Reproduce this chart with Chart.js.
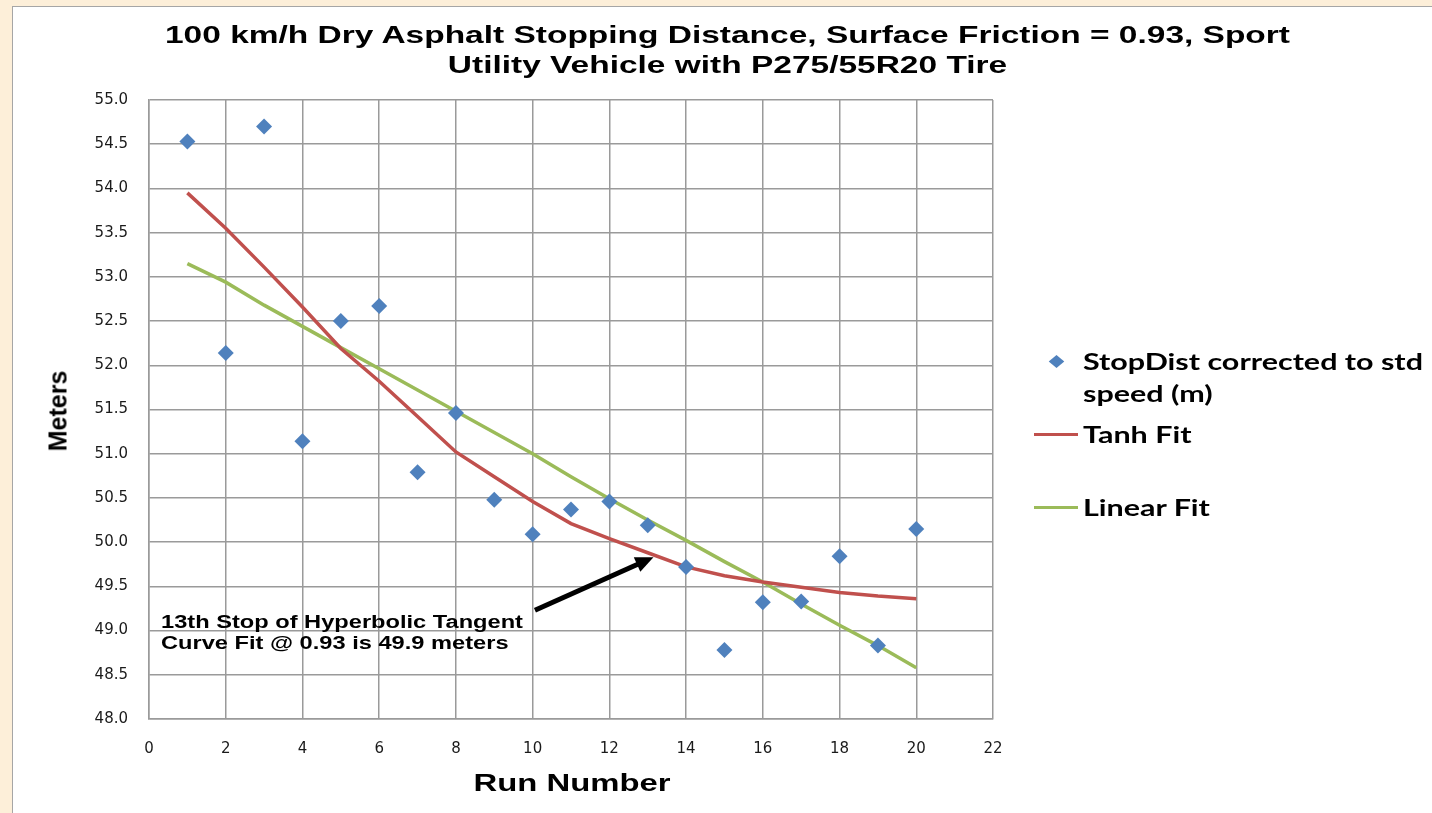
<!DOCTYPE html>
<html><head><meta charset="utf-8">
<script src="https://cdn.jsdelivr.net/npm/chart.js@4.4.1/dist/chart.umd.min.js"></script>
<style>
html,body{margin:0;padding:0;width:1432px;height:813px;overflow:hidden;background:#fdefd9;}
#panel{position:absolute;left:12px;top:6px;width:1440px;height:830px;background:#fff;border:1.5px solid #a6a6a6;box-sizing:border-box;}
#c{position:absolute;left:0;top:0;}
.t{position:absolute;white-space:nowrap;color:#000;z-index:2;}
#title{left:0;width:1455px;top:20px;text-align:center;font:bold 24px "Liberation Sans",Arial,sans-serif;line-height:30px;transform-origin:727.5px 0;}
.leg{font:bold 23px Lato,"Noto Sans",sans-serif;line-height:32px;transform-origin:0 50%;}
#ytitle{left:58px;top:411px;font:bold 25px "Liberation Sans",Arial,sans-serif;line-height:1;transform:translate(-50%,-50%) rotate(-90deg);}
#xtitle{left:571.5px;top:783px;font:bold 24px "Liberation Sans",Arial,sans-serif;line-height:1;}
#note{left:161px;top:612px;font:bold 18px "Liberation Sans",Arial,sans-serif;line-height:21px;transform-origin:0 0;}
.sw{position:absolute;z-index:2;}
</style></head>
<body>
<div id="panel"></div>
<canvas id="c" width="1432" height="813"></canvas>
<div class="t" id="title"><span id="tl1">100 km/h Dry Asphalt Stopping Distance, Surface Friction = 0.93, Sport</span><br>Utility Vehicle with P275/55R20 Tire</div>
<div class="t" id="ytitle">Meters</div>
<div class="t" id="xtitle">Run Number</div>
<div class="t" id="note"><span id="nl1">13th Stop of Hyperbolic Tangent</span><br>Curve Fit @ 0.93 is 49.9 meters</div>
<div class="sw" style="left:1051px;top:356px;width:11px;height:11px;background:#4f81bd;transform:scaleY(0.85) rotate(45deg);"></div>
<div class="t leg" id="leg1" style="left:1083px;top:345px;"><span id="ll1">StopDist corrected to std</span><br>speed (m)</div>
<div class="sw" style="left:1034px;top:432.5px;width:44px;height:3px;background:#c0504d;"></div>
<div class="t leg" id="leg2" style="left:1083px;top:418px;">Tanh Fit</div>
<div class="sw" style="left:1034px;top:505.5px;width:44px;height:3px;background:#9bbb59;"></div>
<div class="t leg" id="leg3" style="left:1083px;top:491px;">Linear Fit</div>
<script>
const runs = [1,2,3,4,5,6,7,8,9,10,11,12,13,14,15,16,17,18,19,20];
const stopDist = [54.53,52.14,54.70,51.14,52.50,52.67,50.79,51.46,50.48,50.09,50.37,50.46,50.19,49.72,48.78,49.32,49.33,49.84,48.83,50.15];
const tanhFit = [53.95,53.55,53.11,52.66,52.19,51.82,51.42,51.02,50.74,50.46,50.21,50.04,49.88,49.72,49.62,49.55,49.49,49.43,49.39,49.36];
const linearFit = [53.15,52.94,52.68,52.44,52.20,51.96,51.72,51.48,51.24,51.00,50.74,50.49,50.25,50.02,49.78,49.55,49.30,49.06,48.83,48.58];
const xTicks = [0,2,4,6,8,10,12,14,16,18,20,22];
const yTicks = [48.0,48.5,49.0,49.5,50.0,50.5,51.0,51.5,52.0,52.5,53.0,53.5,54.0,54.5,55.0];
const yTickLabels = ['48.0','48.5','49.0','49.5','50.0','50.5','51.0','51.5','52.0','52.5','53.0','53.5','54.0','54.5','55.0'];
const arrowTail = [10.06, 49.23];
const arrowHead = [13.15, 49.83];

const pts = a => runs.map((r,i)=>({x:r,y:a[i]}));
const gridColor = '#9a9a9a';

const arrowPlugin = {
  id:'arrow',
  afterDatasetsDraw(chart){
    const {ctx, scales:{x,y}} = chart;
    const x1=x.getPixelForValue(arrowTail[0]), y1=y.getPixelForValue(arrowTail[1]);
    const x2=x.getPixelForValue(arrowHead[0]), y2=y.getPixelForValue(arrowHead[1]);
    const ang=Math.atan2(y2-y1,x2-x1), L=18, W=8;
    const bx=x2-L*Math.cos(ang), by=y2-L*Math.sin(ang);
    ctx.save();
    ctx.strokeStyle='#000'; ctx.fillStyle='#000'; ctx.lineWidth=5; ctx.lineCap='butt';
    ctx.beginPath(); ctx.moveTo(x1,y1); ctx.lineTo(bx+2*Math.cos(ang),by+2*Math.sin(ang)); ctx.stroke();
    ctx.beginPath(); ctx.moveTo(x2,y2);
    ctx.lineTo(bx+W*Math.sin(ang), by-W*Math.cos(ang));
    ctx.lineTo(bx-W*Math.sin(ang), by+W*Math.cos(ang));
    ctx.closePath(); ctx.fill();
    ctx.restore();
  }
};

new Chart(document.getElementById('c'), {
  type:'scatter',
  data:{datasets:[
    {label:'StopDist corrected to std speed (m)', data:pts(stopDist), showLine:false, pointStyle:'rectRot', pointRadius:8, pointBackgroundColor:'#4f81bd', pointBorderWidth:0},
    {label:'Tanh Fit', data:pts(tanhFit), showLine:true, pointRadius:0, borderColor:'#c0504d', borderWidth:3.5, tension:0},
    {label:'Linear Fit', data:pts(linearFit), showLine:true, pointRadius:0, borderColor:'#9bbb59', borderWidth:3.5, tension:0}
  ]},
  options:{
    responsive:false, animation:false, devicePixelRatio:1,
    layout:{padding:{left:49,top:100,right:439,bottom:0}},
    plugins:{legend:{display:false}, title:{display:false}, tooltip:{enabled:false}},
    scales:{
      x:{type:'linear', min:0, max:22,
        afterBuildTicks(s){ s.ticks = xTicks.map(v=>({value:v})); },
        afterFit(s){ s.height = 94; },
        grid:{color:gridColor, lineWidth:1.5, drawTicks:false},
        border:{color:gridColor, width:1.5},
        ticks:{padding:21, color:'#1a1a1a', font:{family:'"DejaVu Sans"', size:15}, maxRotation:0}
      },
      y:{type:'linear', min:48, max:55,
        afterBuildTicks(s){ s.ticks = yTicks.map(v=>({value:v})); },
        afterFit(s){ s.width = 100; },
        grid:{color:gridColor, lineWidth:1.5, drawTicks:false},
        border:{color:gridColor, width:1.5},
        ticks:{padding:21, color:'#1a1a1a', font:{family:'"DejaVu Sans"', size:15},
          callback(v){ const i = yTicks.indexOf(v); return i>=0 ? yTickLabels[i] : ''; }}
      }
    }
  },
  plugins:[arrowPlugin]
});

function fit(){
  const t=document.getElementById('title'); t.style.transform='none';
  const k1=1125/document.getElementById('tl1').getBoundingClientRect().width;
  t.style.transform='scaleX('+k1+')';
  const n=document.getElementById('note'); n.style.transform='none';
  const k2=362/document.getElementById('nl1').getBoundingClientRect().width;
  n.style.transform='scaleX('+k2+')';
  ['leg1','leg2','leg3'].forEach(id=>document.getElementById(id).style.transform='none');
  const k3=340/document.getElementById('ll1').getBoundingClientRect().width;
  ['leg1','leg2','leg3'].forEach(id=>document.getElementById(id).style.transform='scaleX('+k3+')');
  const xt=document.getElementById('xtitle'); xt.style.transform='translate(-50%,-50%)';
  const k4=197/xt.getBoundingClientRect().width;
  xt.style.transform='translate(-50%,-50%) scaleX('+k4+')';
}
fit();
if(document.fonts&&document.fonts.ready) document.fonts.ready.then(fit);
</script>
</body></html>
